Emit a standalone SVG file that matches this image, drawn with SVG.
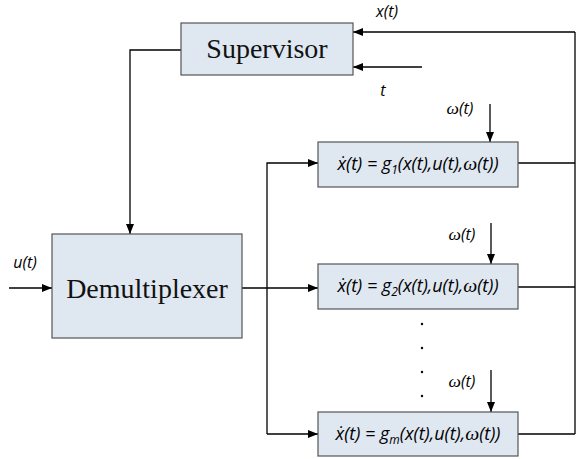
<svg xmlns="http://www.w3.org/2000/svg" width="576" height="459" viewBox="0 0 576 459">
<defs>
<marker id="ah" viewBox="0 0 10 8" refX="10" refY="4" markerWidth="10" markerHeight="8" markerUnits="userSpaceOnUse" orient="auto">
<path d="M0,0 L10,4 L0,8 Z" fill="#000"/>
</marker>
</defs>
<style>
.box{fill:#dfe7f1;stroke:#555;stroke-width:1.2}
.ln{fill:none;stroke:#000;stroke-width:1.3}
.big{font-family:"Liberation Serif","Times New Roman",serif;font-size:28px;fill:#111;text-anchor:middle}
.eq{font-family:"Open Sans","Liberation Sans",sans-serif;font-style:italic;font-size:18px;fill:#000;text-anchor:middle}
.lab{font-family:"Open Sans","Liberation Sans",sans-serif;font-style:italic;font-size:16px;fill:#000;text-anchor:middle}
.om{font-family:"Liberation Serif","Times New Roman",serif;font-style:italic;font-size:1.1em}
</style>
<rect width="576" height="459" fill="#fff"/>
<g id="connectors">
<path class="ln" d="M575,32 L575,434"/>
<path class="ln" d="M575,32 L353,32" marker-end="url(#ah)"/>
<path class="ln" d="M422,67 L353,67" marker-end="url(#ah)"/>
<path class="ln" d="M181,50 L130,50 L130,234" marker-end="url(#ah)"/>
<path class="ln" d="M9,288 L52,288" marker-end="url(#ah)"/>
<path class="ln" d="M242,288 L318,288" marker-end="url(#ah)"/>
<path class="ln" d="M267,434 L267,163 L318,163" marker-end="url(#ah)"/>
<path class="ln" d="M267,434 L318,434" marker-end="url(#ah)"/>
<path class="ln" d="M518,163 L575,163"/>
<path class="ln" d="M518,287 L575,287"/>
<path class="ln" d="M518,434 L575,434"/>
<path class="ln" d="M490,104 L490,142" marker-end="url(#ah)"/>
<path class="ln" d="M491,223 L491,264" marker-end="url(#ah)"/>
<path class="ln" d="M491,370 L491,412" marker-end="url(#ah)"/>
</g>
<g id="labels">
<text class="lab" x="387" y="17">x(t)</text>
<text class="lab" x="383" y="96">t</text>
<text class="lab" x="460" y="114"><tspan class="om">ω</tspan>(t)</text>
<text class="lab" x="462" y="240"><tspan class="om">ω</tspan>(t)</text>
<text class="lab" x="462" y="387"><tspan class="om">ω</tspan>(t)</text>
<text class="lab" x="25" y="268">u(t)</text>
<g fill="#000">
<circle cx="422" cy="324" r="1.2"/>
<circle cx="422" cy="348" r="1.2"/>
<circle cx="422" cy="372" r="1.2"/>
<circle cx="422" cy="396" r="1.2"/>
</g>
</g>
<g id="supervisor">
<rect class="box" x="181" y="23" width="172" height="52"/>
<text class="big" x="267" y="58">Supervisor</text>
</g>
<g id="demultiplexer">
<rect class="box" x="52" y="234" width="190" height="104"/>
<text class="big" x="147" y="298">Demultiplexer</text>
</g>
<g id="sys1">
<rect class="box" x="318" y="142" width="200" height="45"/>
<text class="eq" x="418" y="170">ẋ(t) = g<tspan font-size="12" dy="4">1</tspan><tspan dy="-4">(x(t),u(t),</tspan><tspan class="om">ω</tspan>(t))</text>
</g>
<g id="sys2">
<rect class="box" x="318" y="264" width="200" height="45"/>
<text class="eq" x="418" y="292">ẋ(t) = g<tspan font-size="12" dy="4">2</tspan><tspan dy="-4">(x(t),u(t),</tspan><tspan class="om">ω</tspan>(t))</text>
</g>
<g id="sysm">
<rect class="box" x="318" y="412" width="200" height="44"/>
<text class="eq" x="418" y="440">ẋ(t) = g<tspan font-size="12" dy="4">m</tspan><tspan dy="-4">(x(t),u(t),</tspan><tspan class="om">ω</tspan>(t))</text>
</g>
</svg>
